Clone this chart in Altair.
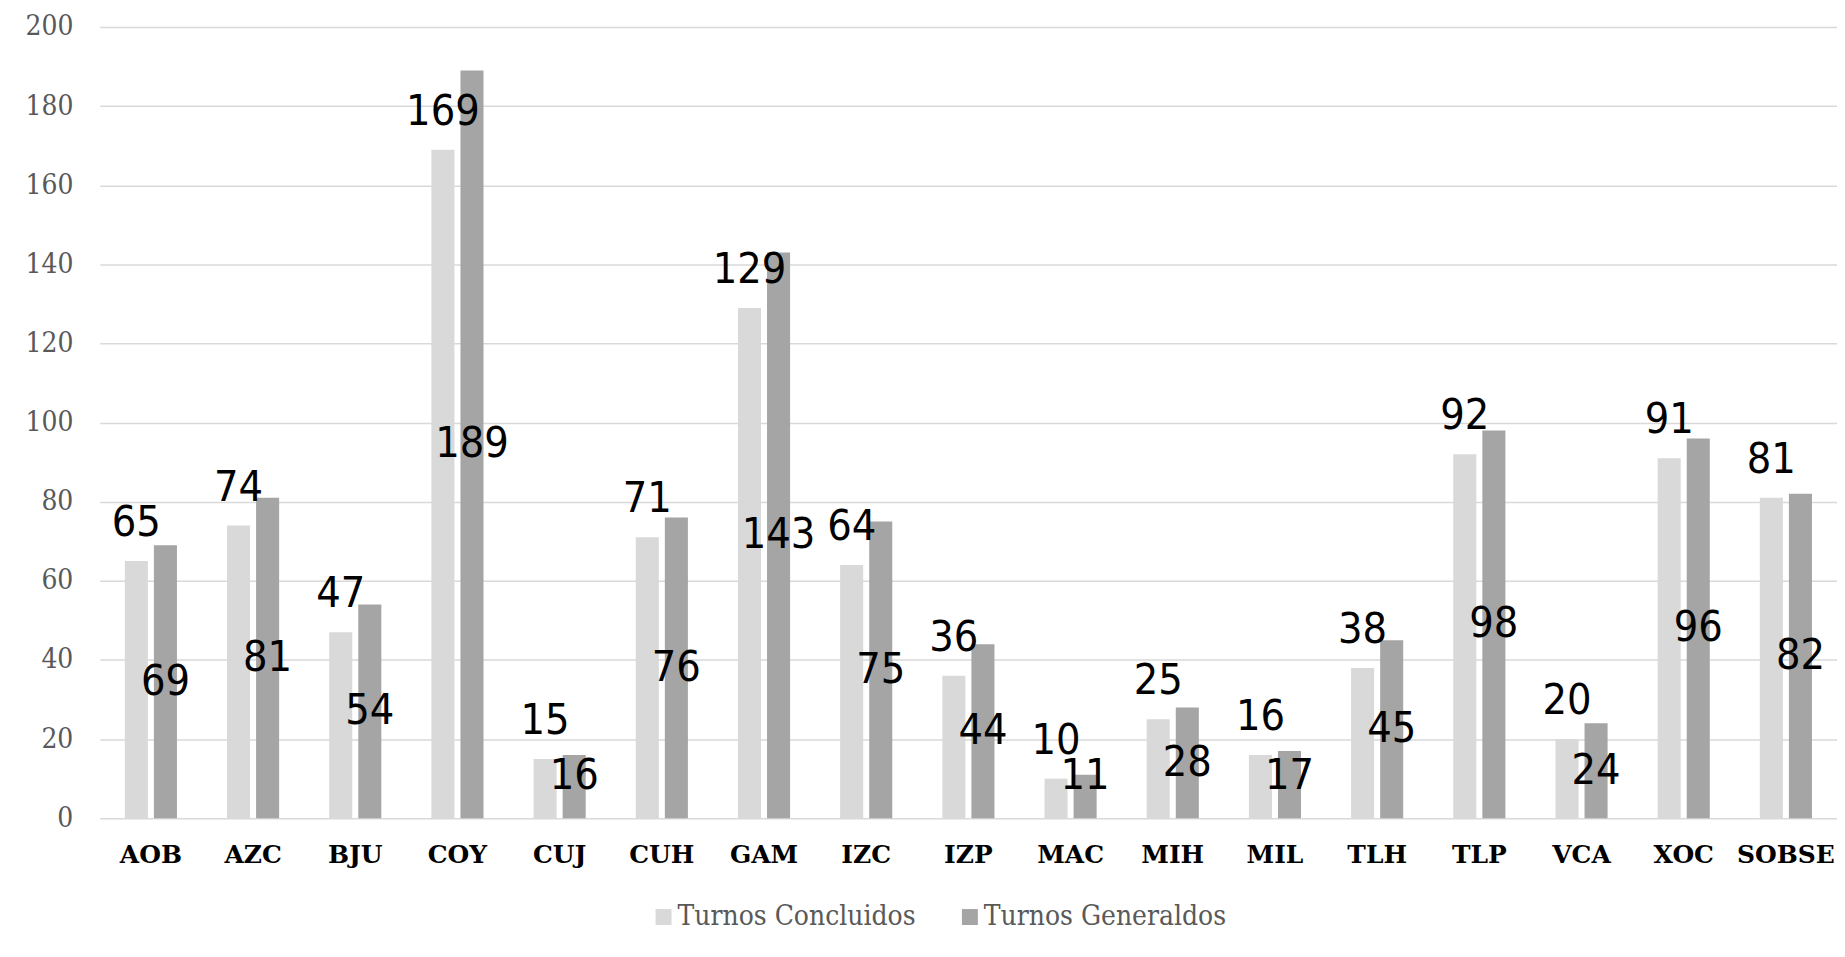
import altair as alt
import pandas as pd

categories = ["AOB", "AZC", "BJU", "COY", "CUJ", "CUH", "GAM", "IZC", "IZP",
              "MAC", "MIH", "MIL", "TLH", "TLP", "VCA", "XOC", "SOBSE"]
concluidos = [65, 74, 47, 169, 15, 71, 129, 64, 36, 10, 25, 16, 38, 92, 20, 91, 81]
generados = [69, 81, 54, 189, 16, 76, 143, 75, 44, 11, 28, 17, 45, 98, 24, 96, 82]
series_names = ["Turnos Concluidos", "Turnos Generaldos"]
series_colors = ["#D9D9D9", "#A5A5A5"]
y_ticks = [0, 20, 40, 60, 80, 100, 120, 140, 160, 180, 200]

rows = []
for c, a, b in zip(categories, concluidos, generados):
    rows.append({"cat": c, "serie": series_names[0], "valor": a})
    rows.append({"cat": c, "serie": series_names[1], "valor": b})
df = pd.DataFrame(rows)

x_enc = alt.X(
    "cat:N", sort=categories, title=None,
    scale=alt.Scale(domain=categories, paddingInner=0.49, paddingOuter=0.245),
    axis=alt.Axis(labelAngle=0, labelFont="DejaVu Serif", labelFontWeight="bold",
                  labelFontSize=25, labelColor="#000000", labelPadding=24,
                  domain=False, ticks=False, grid=False),
)
xo_enc = alt.XOffset(
    "serie:N",
    scale=alt.Scale(domain=series_names, paddingInner=0.207, paddingOuter=0),
)
y_scale = alt.Scale(domain=[0, 200], nice=False)
y_axis = alt.Axis(values=y_ticks, labelFont="DejaVu Serif Condensed", labelFontSize=28,
                  labelColor="#595959", labelPadding=27, domain=False, ticks=False,
                  grid=True, gridColor="#D9D9D9", gridWidth=1.5)
y_enc = alt.Y("valor:Q", scale=y_scale, title=None, axis=y_axis)

bars = alt.Chart(df).mark_bar().encode(
    x=x_enc, xOffset=xo_enc, y=y_enc,
    color=alt.Color(
        "serie:N",
        scale=alt.Scale(domain=series_names, range=series_colors),
        legend=alt.Legend(
            title=None, orient="none", direction="horizontal",
            legendX=551, legendY=878, symbolType="square", symbolSize=256,
            symbolStrokeWidth=0, labelFont="DejaVu Serif Condensed", labelFontSize=28,
            labelColor="#595959", labelOffset=0, columnPadding=40, padding=0,
            labelLimit=0,
        ),
    ),
)

labels_top = alt.Chart(df).transform_filter(
    alt.datum.serie == series_names[0]
).mark_text(
    font="DejaVu Sans Condensed", fontSize=43, color="#000000",
    baseline="alphabetic", dy=-25,
).encode(x=x_enc, xOffset=xo_enc, y=y_enc, text="valor:Q")

labels_mid = alt.Chart(df).transform_filter(
    alt.datum.serie == series_names[1]
).transform_calculate(
    ymid="max(datum.valor / 2, 10.6)"
).mark_text(
    font="DejaVu Sans Condensed", fontSize=43, color="#000000",
    baseline="middle",
).encode(
    x=x_enc, xOffset=xo_enc,
    y=alt.Y("ymid:Q", scale=y_scale, title=None, axis=y_axis),
    text="valor:Q",
)

chart = alt.layer(bars, labels_top, labels_mid).properties(
    width=1741, height=793,
    autosize=alt.AutoSizeParams(type="none"),
    padding={"left": 92, "top": 18, "right": 0, "bottom": 128},
    background="#FFFFFF",
).configure_view(stroke=None)

chart.save("out.html", embed_options={"renderer": "svg", "actions": False})
